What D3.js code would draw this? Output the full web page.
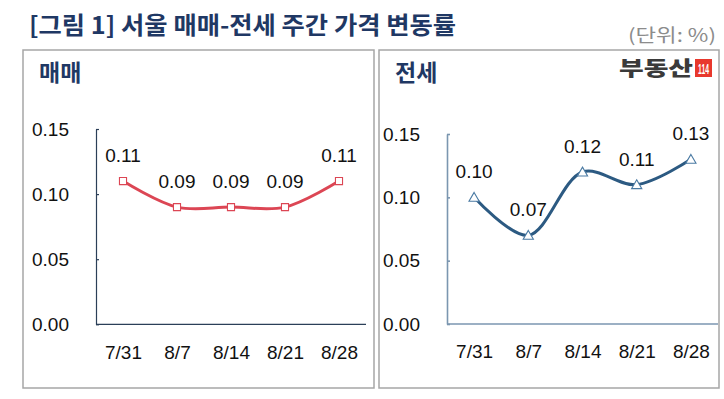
<!DOCTYPE html>
<html><head><meta charset="utf-8">
<script src="https://cdn.jsdelivr.net/npm/d3@7"></script>
<style>body{margin:0;background:#fff}svg{display:block}</style>
</head><body>
<script>
const categories = ["7/31","8/7","8/14","8/21","8/28"];
const saleValues = [0.11,0.09,0.09,0.09,0.11];
const rentValues = [0.10,0.07,0.12,0.11,0.13];
const yTicks = [0,0.05,0.10,0.15];
const titleText = "[그림 1] 서울 매매-전세 주간 가격 변동률";
const unitText = "(단위: %)";
const panelNames = ["매매","전세"];

const W=724,H=399;
const svg=d3.select("body").append("svg").attr("width",W).attr("height",H);
const KR="'Noto Sans CJK KR','Noto Sans',sans-serif";
const NUM="'Liberation Sans','Noto Sans CJK KR',sans-serif";
const FS=19;

// title
svg.append("text").attr("x",29).attr("y",34).text(titleText)
 .attr("font-family",KR).attr("font-weight",700).attr("font-size",24).attr("fill","#1f3864")
 .attr("textLength",427).attr("lengthAdjust","spacingAndGlyphs");
svg.append("text").attr("x",716).attr("y",42).attr("text-anchor","end").text(unitText)
 .attr("font-family",KR).attr("font-size",18).attr("fill","#8c8c8c")
 .attr("textLength",88).attr("lengthAdjust","spacingAndGlyphs");

const panels=[
 {box:[23,50,374,388], name:panelNames[0], values:saleValues, xr:[96,366], yr:[324.3,129],
  line:"#dc4654", marker:"square", mstroke:"#dc4654", axis:"#2b3f58", axisW:1.2},
 {box:[379,50,719,388], name:panelNames[1], values:rentValues, xr:[447,718], yr:[324,134],
  line:"#2c5a82", marker:"triangle", mstroke:"#4a7aa3", axis:"#7b96b0", axisW:1.6}
];

panels.forEach(p=>{
 const g=svg.append("g");
 g.append("rect").attr("x",p.box[0]).attr("y",p.box[1]).attr("width",p.box[2]-p.box[0]).attr("height",p.box[3]-p.box[1])
  .attr("fill","none").attr("stroke","#a6a6a6").attr("stroke-width",1.5);
 g.append("text").attr("x",p.box[0]+16).attr("y",81).text(p.name)
  .attr("font-family",KR).attr("font-weight",700).attr("font-size",23).attr("fill","#1f3864");
 const x=d3.scalePoint().domain(categories).range(p.xr).padding(0.5);
 const y=d3.scaleLinear().domain([0,0.15]).range(p.yr);
 const ya=g.append("g").attr("transform",`translate(${p.xr[0]},0)`)
  .call(d3.axisLeft(y).tickValues(yTicks).tickFormat(d3.format(".2f")).tickSizeInner(-3).tickSizeOuter(0).tickPadding(27));
 ya.selectAll("path,line").attr("stroke",p.axis).attr("stroke-width",p.axisW);
 ya.selectAll("text").attr("font-family",NUM).attr("font-size",FS).attr("fill","#111");
 const xa=g.append("g").attr("transform",`translate(0,${p.yr[0]})`)
  .call(d3.axisBottom(x).tickSize(0).tickPadding(21));
 xa.selectAll("path").attr("stroke",p.axis).attr("stroke-width",p.axisW);
 xa.selectAll("text").attr("font-family",NUM).attr("font-size",FS).attr("fill","#111");
 xa.selectAll("path").attr("d",`M${p.xr[0]},0H${p.xr[1]}`);
 const data=categories.map((c,i)=>({c,v:p.values[i]}));
 g.append("path").datum(data).attr("fill","none").attr("stroke",p.line).attr("stroke-width",3)
  .attr("d",d3.line().x(d=>x(d.c)).y(d=>y(d.v)).curve(d3.curveCatmullRom.alpha(0.5)));
 const sym=d3.symbol().type(p.marker==="square"?d3.symbolSquare:d3.symbolTriangle).size(p.marker==="square"?50:45);
 g.selectAll(".m").data(data).enter().append("path")
  .attr("transform",d=>`translate(${x(d.c)},${y(d.v)+(p.marker==="triangle"?1:0)})`)
  .attr("d",sym).attr("fill","#fff").attr("stroke",p.mstroke).attr("stroke-width",1.1);
 g.selectAll(".lbl").data(data).enter().append("text")
  .attr("x",d=>x(d.c)).attr("y",d=>y(d.v)-19).attr("text-anchor","middle")
  .text(d=>d3.format(".2f")(d.v)).attr("font-family",NUM).attr("font-size",FS).attr("fill","#111");
});

// logo
svg.append("text").attr("x",619).attr("y",76).text("부동산").attr("font-family",KR).attr("font-weight",900)
 .attr("font-size",20).attr("fill","#3a3a3a").attr("textLength",74).attr("lengthAdjust","spacingAndGlyphs");
svg.append("rect").attr("x",695).attr("y",59).attr("width",17).attr("height",18).attr("fill","#e8382d");
svg.append("text").attr("x",703.5).attr("y",74).attr("text-anchor","middle").text("114").attr("font-family",NUM)
 .attr("font-weight",700).attr("font-size",14).attr("fill","#fff").attr("textLength",11).attr("lengthAdjust","spacingAndGlyphs");
</script>
</body></html>
